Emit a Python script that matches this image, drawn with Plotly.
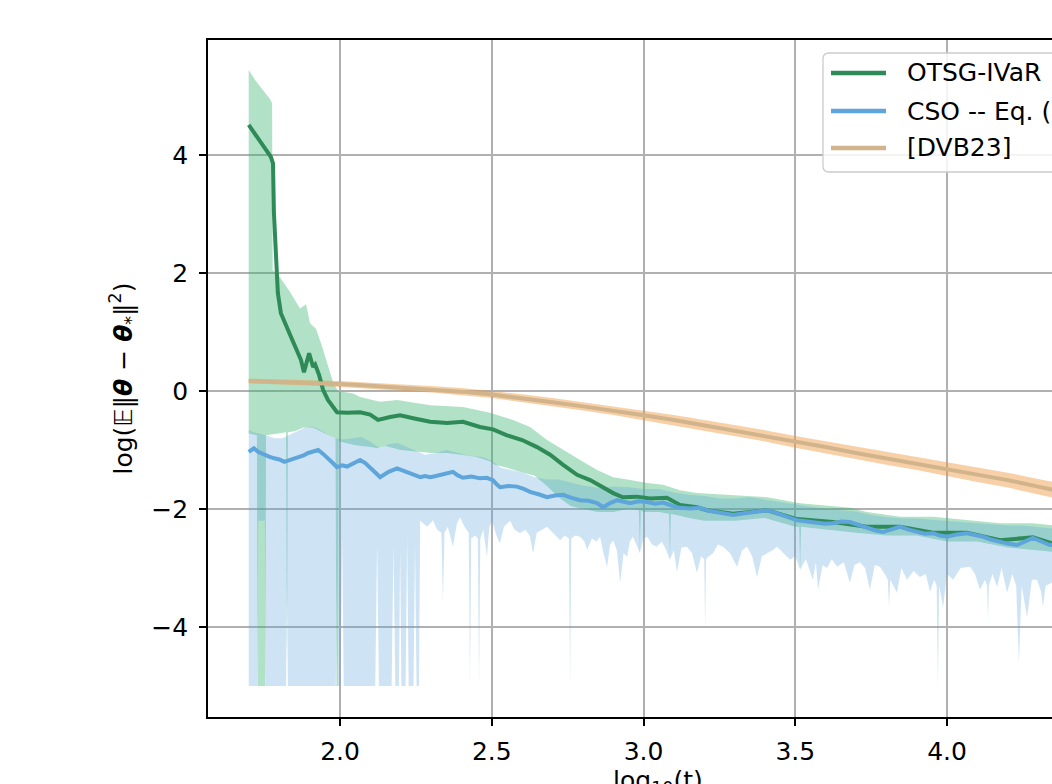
import plotly.graph_objects as go

# ---------------- data (log10 t  ->  log error) ----------------
otsg_x = [1.699, 1.739, 1.772, 1.779, 1.782, 1.795, 1.805, 1.838, 1.871, 1.881, 1.898, 1.911, 1.918,
          1.931, 1.944, 1.960, 1.983, 1.990, 2.023, 2.066, 2.099, 2.125, 2.165, 2.198, 2.241, 2.297,
          2.353, 2.405, 2.461, 2.504, 2.550, 2.600, 2.649, 2.692, 2.735, 2.781, 2.824, 2.867, 2.900,
          2.932, 2.979, 3.021, 3.077, 3.120, 3.176, 3.209, 3.295, 3.407, 3.506, 3.624, 3.736, 3.845,
          3.954, 4.066, 4.175, 4.283, 4.346, 4.398]
otsg_mean = [4.51, 4.22, 3.97, 3.86, 3.02, 1.66, 1.32, 0.92, 0.53, 0.32, 0.64, 0.41, 0.45,
             0.27, 0.02, -0.15, -0.30, -0.36, -0.37, -0.36, -0.40, -0.49, -0.44, -0.41, -0.46, -0.52,
             -0.54, -0.52, -0.61, -0.65, -0.75, -0.83, -0.95, -1.08, -1.25, -1.42, -1.51, -1.63, -1.73,
             -1.80, -1.79, -1.82, -1.81, -1.93, -1.97, -2.02, -2.08, -2.02, -2.17, -2.22, -2.30, -2.30,
             -2.40, -2.40, -2.53, -2.48, -2.58, -2.60]

otsg_up_x = [1.699, 1.720, 1.743, 1.769, 1.776, 1.778, 1.802, 1.835, 1.868, 1.888, 1.901, 1.921,
             1.941, 1.960, 1.977, 1.993, 2.043, 2.066, 2.132, 2.188, 2.297, 2.405, 2.494, 2.570,
             2.626, 2.682, 2.735, 2.791, 2.847, 2.900, 2.956, 3.012, 3.064, 3.120, 3.176, 3.275,
             3.407, 3.516, 3.681, 3.736, 3.845, 3.954, 4.066, 4.175, 4.283, 4.398]
otsg_upper = [5.44, 5.27, 5.12, 4.95, 4.88, 2.05, 1.93, 1.68, 1.40, 1.47, 1.15, 1.05,
              0.75, 0.45, 0.15, 0.0, -0.04, -0.10, -0.18, -0.15, -0.24, -0.27, -0.37, -0.49,
              -0.61, -0.83, -1.00, -1.17, -1.34, -1.46, -1.51, -1.56, -1.59, -1.68, -1.73, -1.76,
              -1.80, -1.90, -1.98, -2.05, -2.13, -2.13, -2.19, -2.24, -2.24, -2.30]

otsg_lo_x = [1.699, 1.726, 1.728, 1.754, 1.756, 1.800, 1.822, 1.825, 1.828, 1.850, 1.880, 1.910,
             1.950, 1.985, 1.988, 1.993, 1.996, 2.050, 2.100, 2.125, 2.150, 2.200, 2.250, 2.300,
             2.350, 2.400, 2.450, 2.497, 2.510, 2.550, 2.600, 2.640, 2.680, 2.720, 2.760, 2.800,
             2.850, 2.900, 2.950, 2.985, 2.988, 2.991, 3.000, 3.050, 3.084, 3.087, 3.090, 3.100,
             3.150, 3.200, 3.300, 3.400, 3.500, 3.513, 3.516, 3.519, 3.600, 3.700, 3.800, 3.900,
             4.000, 4.100, 4.200, 4.300, 4.398]
otsg_lower = [-0.72, -0.75, -5.0, -5.0, -0.75, -0.72, -0.70, -4.6, -0.70, -0.68, -0.62, -0.62,
              -0.72, -0.80, -5.0, -5.0, -0.85, -0.92, -0.95, -0.97, -0.93, -1.00, -1.02, -1.05,
              -1.05, -1.08, -1.12, -1.20, -1.25, -1.30, -1.38, -1.43, -1.60, -1.80, -1.95, -2.00,
              -2.05, -2.05, -2.00, -2.02, -2.75, -2.02, -2.05, -2.05, -2.08, -2.86, -2.08, -2.10,
              -2.15, -2.20, -2.20, -2.15, -2.30, -2.30, -3.03, -2.30, -2.35, -2.40, -2.45, -2.45,
              -2.55, -2.55, -2.65, -2.70, -2.75]

cso_x = [1.699, 1.716, 1.730, 1.749, 1.766, 1.783, 1.800, 1.816, 1.840, 1.862, 1.880, 1.895, 1.912,
         1.928, 1.945, 1.961, 1.976, 1.990, 2.007, 2.023, 2.045, 2.066, 2.083, 2.099, 2.116, 2.132,
         2.160, 2.188, 2.205, 2.221, 2.243, 2.264, 2.280, 2.297, 2.316, 2.335, 2.353, 2.372, 2.388,
         2.405, 2.433, 2.461, 2.483, 2.504, 2.516, 2.527, 2.555, 2.583, 2.605, 2.626, 2.654, 2.682,
         2.708, 2.735, 2.763, 2.791, 2.819, 2.847, 2.867, 2.890, 2.913, 2.935, 2.956, 2.984, 3.012,
         3.038, 3.064, 3.092, 3.120, 3.153, 3.186, 3.214, 3.242, 3.268, 3.295, 3.322, 3.350, 3.378,
         3.407, 3.433, 3.460, 3.483, 3.506, 3.539, 3.572, 3.598, 3.624, 3.652, 3.680, 3.708, 3.736,
         3.762, 3.789, 3.817, 3.845, 3.873, 3.901, 3.927, 3.954, 3.977, 4.000, 4.033, 4.066, 4.092,
         4.119, 4.147, 4.175, 4.203, 4.231, 4.257, 4.283, 4.311, 4.339, 4.368, 4.398]
cso_mean = [-1.03, -0.97, -1.03, -1.08, -1.11, -1.14, -1.16, -1.20, -1.16, -1.12, -1.09, -1.05, -1.03,
            -1.00, -1.07, -1.14, -1.22, -1.29, -1.26, -1.28, -1.22, -1.17, -1.22, -1.29, -1.38, -1.46,
            -1.37, -1.31, -1.34, -1.37, -1.41, -1.46, -1.44, -1.46, -1.44, -1.42, -1.40, -1.37, -1.43,
            -1.47, -1.45, -1.48, -1.47, -1.51, -1.58, -1.63, -1.61, -1.62, -1.66, -1.71, -1.75, -1.80,
            -1.77, -1.76, -1.81, -1.85, -1.86, -1.90, -1.97, -1.90, -1.85, -1.88, -1.90, -1.87, -1.88,
            -1.91, -1.89, -1.94, -1.98, -1.99, -1.98, -2.03, -2.05, -2.08, -2.10, -2.08, -2.06, -2.04,
            -2.02, -2.06, -2.10, -2.15, -2.19, -2.21, -2.22, -2.25, -2.24, -2.21, -2.22, -2.27, -2.32,
            -2.36, -2.39, -2.34, -2.30, -2.35, -2.39, -2.42, -2.41, -2.45, -2.47, -2.43, -2.41, -2.44,
            -2.47, -2.52, -2.56, -2.59, -2.61, -2.55, -2.49, -2.55, -2.61, -2.60, -2.63]

cso_up_x = [1.699, 1.715, 1.735, 1.760, 1.785, 1.810, 1.835, 1.860, 1.885, 1.910, 1.935, 1.960,
            1.985, 2.010, 2.040, 2.070, 2.100, 2.130, 2.160, 2.190, 2.220, 2.250, 2.280, 2.310,
            2.350, 2.390, 2.430, 2.470, 2.500, 2.530, 2.560, 2.600, 2.640, 2.680, 2.720, 2.760,
            2.800, 2.850, 2.900, 2.950, 3.000, 3.050, 3.100, 3.150, 3.200, 3.250, 3.300, 3.350,
            3.400, 3.450, 3.500, 3.550, 3.600, 3.650, 3.700, 3.750, 3.800, 3.850, 3.900, 3.950,
            4.000, 4.050, 4.100, 4.150, 4.200, 4.250, 4.300, 4.350, 4.398]
cso_upper = [-0.66, -0.70, -0.72, -0.76, -0.80, -0.80, -0.74, -0.68, -0.62, -0.60, -0.66, -0.74,
             -0.80, -0.82, -0.80, -0.78, -0.86, -0.97, -0.90, -0.88, -0.95, -1.02, -1.08, -1.06,
             -1.00, -1.05, -1.10, -1.12, -1.18, -1.30, -1.33, -1.38, -1.46, -1.50, -1.50, -1.55,
             -1.60, -1.64, -1.62, -1.63, -1.66, -1.66, -1.72, -1.76, -1.78, -1.82, -1.82, -1.80,
             -1.84, -1.88, -1.93, -1.96, -2.00, -2.02, -2.04, -2.10, -2.14, -2.16, -2.16, -2.18,
             -2.20, -2.22, -2.24, -2.27, -2.28, -2.28, -2.30, -2.33, -2.36]

cso_lo_x = [1.699, 1.727, 1.730, 1.752, 1.755, 1.822, 1.825, 1.828, 1.986, 1.990, 1.993, 2.002,
            2.007, 2.012, 2.116, 2.122, 2.128, 2.170, 2.176, 2.182, 2.194, 2.198, 2.202, 2.216,
            2.221, 2.226, 2.242, 2.247, 2.252, 2.260, 2.264, 2.287, 2.306, 2.320, 2.334, 2.339,
            2.344, 2.355, 2.372, 2.385, 2.395, 2.410, 2.424, 2.428, 2.432, 2.445, 2.454, 2.458,
            2.462, 2.472, 2.484, 2.492, 2.501, 2.515, 2.527, 2.540, 2.560, 2.575, 2.593, 2.610,
            2.625, 2.636, 2.648, 2.665, 2.682, 2.700, 2.725, 2.740, 2.754, 2.758, 2.762, 2.775,
            2.791, 2.805, 2.814, 2.830, 2.845, 2.857, 2.868, 2.880, 2.890, 2.900, 2.912, 2.923,
            2.934, 2.946, 2.955, 2.965, 2.976, 2.988, 3.000, 3.012, 3.028, 3.044, 3.060, 3.075,
            3.087, 3.100, 3.110, 3.125, 3.143, 3.160, 3.176, 3.190, 3.200, 3.203, 3.206, 3.215,
            3.229, 3.245, 3.262, 3.285, 3.308, 3.325, 3.341, 3.358, 3.374, 3.390, 3.407, 3.425,
            3.440, 3.460, 3.483, 3.500, 3.516, 3.535, 3.558, 3.568, 3.575, 3.590, 3.605, 3.620,
            3.638, 3.660, 3.680, 3.695, 3.713, 3.730, 3.746, 3.762, 3.779, 3.795, 3.805, 3.809,
            3.813, 3.835, 3.850, 3.868, 3.890, 3.911, 3.930, 3.944, 3.958, 3.966, 3.970, 3.974,
            3.987, 4.000, 4.020, 4.045, 4.076, 4.092, 4.109, 4.125, 4.132, 4.135, 4.138, 4.150,
            4.165, 4.180, 4.198, 4.215, 4.228, 4.237, 4.246, 4.264, 4.280, 4.297, 4.310, 4.316,
            4.325, 4.346, 4.370, 4.398]
cso_lower = [-5.0, -5.0, -2.2, -2.2, -5.0, -5.0, -3.3, -5.0, -5.0, -2.9, -5.0, -5.0,
             -2.5, -5.0, -5.0, -2.58, -5.0, -5.0, -2.6, -5.0, -5.0, -2.7, -5.0, -5.0,
             -2.47, -5.0, -5.0, -2.6, -5.0, -5.0, -2.20, -2.30, -2.19, -2.35, -2.40, -3.59,
             -2.40, -2.30, -2.64, -2.25, -2.14, -2.30, -2.40, -4.98, -2.50, -2.45, -2.50, -5.0,
             -2.50, -2.35, -2.81, -2.30, -2.20, -2.45, -2.58, -2.30, -2.20, -2.35, -2.41, -2.35,
             -2.45, -2.75, -2.40, -2.35, -2.30, -2.40, -2.53, -2.45, -2.50, -5.0, -2.50, -2.45,
             -2.47, -2.55, -2.69, -2.50, -2.55, -2.47, -2.75, -2.98, -2.60, -2.53, -2.70, -3.25,
             -2.75, -2.81, -2.55, -2.47, -2.60, -2.75, -2.50, -2.47, -2.60, -2.64, -2.55, -2.70,
             -2.86, -2.70, -3.07, -2.65, -2.64, -2.75, -3.08, -2.80, -2.85, -4.05, -2.85, -2.80,
             -2.75, -2.60, -2.64, -2.75, -2.98, -2.70, -2.64, -2.80, -3.15, -2.80, -2.75, -2.70,
             -2.64, -2.75, -2.86, -2.80, -3.03, -2.85, -3.20, -2.90, -3.37, -2.95, -3.00, -2.85,
             -2.98, -2.90, -3.25, -2.95, -2.90, -3.00, -3.37, -2.95, -2.98, -3.10, -3.20, -3.66,
             -3.20, -3.42, -3.00, -3.20, -3.05, -3.15, -3.10, -3.40, -3.20, -3.30, -5.0, -3.30,
             -3.66, -3.10, -3.20, -3.00, -2.98, -3.10, -3.37, -3.20, -3.30, -3.88, -3.30, -3.10,
             -3.32, -3.00, -3.42, -3.10, -3.30, -4.61, -3.30, -3.83, -3.20, -3.20, -3.40, -3.66,
             -3.30, -3.25, -3.30, -3.20]

dvb_x = [1.699, 1.8, 1.9, 2.0, 2.1, 2.2, 2.3, 2.4, 2.5, 2.6, 2.7, 2.8, 2.9, 3.0, 3.1, 3.2, 3.3,
         3.4, 3.5, 3.6, 3.7, 3.8, 3.9, 4.0, 4.1, 4.2, 4.3, 4.398]
dvb_mean = [0.17, 0.155, 0.14, 0.12, 0.09, 0.06, 0.03, -0.01, -0.06, -0.12, -0.19, -0.26, -0.33,
            -0.41, -0.49, -0.58, -0.67, -0.76, -0.86, -0.95, -1.05, -1.14, -1.23, -1.32, -1.42,
            -1.51, -1.62, -1.73]
dvb_upper = [0.21, 0.20, 0.185, 0.17, 0.14, 0.115, 0.085, 0.05, 0.0, -0.055, -0.12, -0.19, -0.255,
             -0.33, -0.405, -0.49, -0.575, -0.665, -0.76, -0.85, -0.945, -1.03, -1.12, -1.205,
             -1.30, -1.385, -1.49, -1.595]
dvb_lower = [0.13, 0.11, 0.095, 0.07, 0.04, 0.005, -0.025, -0.07, -0.12, -0.185, -0.26, -0.33,
             -0.405, -0.49, -0.575, -0.67, -0.765, -0.855, -0.96, -1.05, -1.155, -1.25, -1.34,
             -1.435, -1.54, -1.635, -1.75, -1.865]

labels = ["OTSG-IVaR", "CSO -- Eq. (14)", "[DVB23]"]
line_colors = ["#2e8b57", "#5da5da", "#d2b48c"]
fill_colors = ["rgba(60,179,113,0.40)", "rgba(93,165,218,0.30)", "rgba(240,150,60,0.45)"]

x_ticks = [2.0, 2.5, 3.0, 3.5, 4.0]
y_ticks = [-4, -2, 0, 2, 4]

FONT = "DejaVu Sans"
FS = 25


def polygon(xu, yu, xl, yl):
    return list(xu) + list(xl)[::-1], list(yu) + list(yl)[::-1]


fig = go.Figure()

bands = [
    (otsg_up_x, otsg_upper, otsg_lo_x, otsg_lower),
    (cso_up_x, cso_upper, cso_lo_x, cso_lower),
    (dvb_x, dvb_upper, dvb_x, dvb_lower),
]
for (xu, yu, xl, yl), fc in zip(bands, fill_colors):
    px, py = polygon(xu, yu, xl, yl)
    fig.add_trace(go.Scatter(x=px, y=py, mode="lines", fill="toself", fillcolor=fc,
                             line=dict(width=0), hoverinfo="skip", showlegend=False))

means = [(otsg_x, otsg_mean), (cso_x, cso_mean), (dvb_x, dvb_mean)]
for (xm, ym), lc, lab in zip(means, line_colors, labels):
    fig.add_trace(go.Scatter(x=xm, y=ym, mode="lines", line=dict(color=lc, width=4),
                             name=lab, showlegend=False))

# ---- axes geometry (body margin removed by post_script; right part of axes cropped) ----
AX_L, AX_T, AX_B = 208, 40, 717          # axes box in page pixels
W, H = 1052, 784
plot_w = W - AX_L
plot_h = AX_B - AX_T

fig.update_layout(
    width=W, height=H,
    margin=dict(l=AX_L, r=0, t=AX_T, b=H - AX_B, pad=0),
    paper_bgcolor="white", plot_bgcolor="white",
    font=dict(family=FONT, size=FS, color="black"),
    showlegend=False,
)
fig.update_xaxes(range=[1.5648, 4.346], tickvals=x_ticks, ticktext=[f"{v:.1f}" for v in x_ticks],
                 showline=True, linecolor="black", linewidth=1.6, mirror=True,
                 ticks="outside", ticklen=7, tickwidth=1.6, tickcolor="black",
                 showgrid=True, gridcolor="#b0b0b0", gridwidth=1.6, zeroline=False,
                 ticklabelstandoff=4, tickfont=dict(family=FONT, size=FS, color="black"))
fig.update_yaxes(range=[-5.525, 5.95], tickvals=y_ticks,
                 ticktext=[("\u2212" + str(abs(v))) if v < 0 else str(v) for v in y_ticks],
                 showline=True, linecolor="black", linewidth=1.6, mirror=False,
                 ticks="outside", ticklen=7, tickwidth=1.6, tickcolor="black",
                 showgrid=True, gridcolor="#b0b0b0", gridwidth=1.6, zeroline=False,
                 ticklabelstandoff=6, tickfont=dict(family=FONT, size=FS, color="black"),
                 title=dict(text="log(\U0001D53C\u2016<b><i>\u03b8</i></b> \u2212 <b><i>\u03b8</i></b><sub>*</sub>\u2016<sup>2</sup>)",
                            font=dict(family=FONT, size=FS, color="black"), standoff=12))


def px2x(p):
    return (p - AX_L) / plot_w


def py2y(p):
    return (AX_B - p) / plot_h


# x label centred on the full (uncropped) axes width
fig.add_annotation(text="log<sub>10</sub>(t)", xref="paper", yref="paper",
                   x=px2x(658), y=py2y(764), xanchor="center", yanchor="top",
                   showarrow=False, font=dict(family=FONT, size=FS, color="black"))

# ---- matplotlib-style legend (frame runs off the right edge) ----
bx0, bx1, by0, by1 = px2x(823), px2x(1110), py2y(172), py2y(53)
rx, ry = 6 / plot_w, 6 / plot_h
path = (f"M{bx0 + rx},{by0} L{bx1 - rx},{by0} Q{bx1},{by0} {bx1},{by0 + ry} "
        f"L{bx1},{by1 - ry} Q{bx1},{by1} {bx1 - rx},{by1} L{bx0 + rx},{by1} "
        f"Q{bx0},{by1} {bx0},{by1 - ry} L{bx0},{by0 + ry} Q{bx0},{by0} {bx0 + rx},{by0} Z")
fig.add_shape(type="path", path=path, xref="paper", yref="paper",
              fillcolor="rgba(255,255,255,0.85)", line=dict(color="#cccccc", width=1.3),
              layer="above")
rows = [73, 111, 148]
for lab, lc, r in zip(labels, line_colors, rows):
    fig.add_shape(type="line", xref="paper", yref="paper", x0=px2x(831), x1=px2x(886),
                  y0=py2y(r), y1=py2y(r), line=dict(color=lc, width=4.5), layer="above")
    fig.add_annotation(text=lab, xref="paper", yref="paper", x=px2x(905), y=py2y(r),
                       xanchor="left", yanchor="middle", showarrow=False,
                       font=dict(family=FONT, size=FS, color="black"))

fig.write_html("out.html",
               config={"displayModeBar": False},
               post_script="document.documentElement.style.overflow='hidden';"
                           "document.body.style.margin='0';"
                           "document.body.style.overflow='hidden';")
